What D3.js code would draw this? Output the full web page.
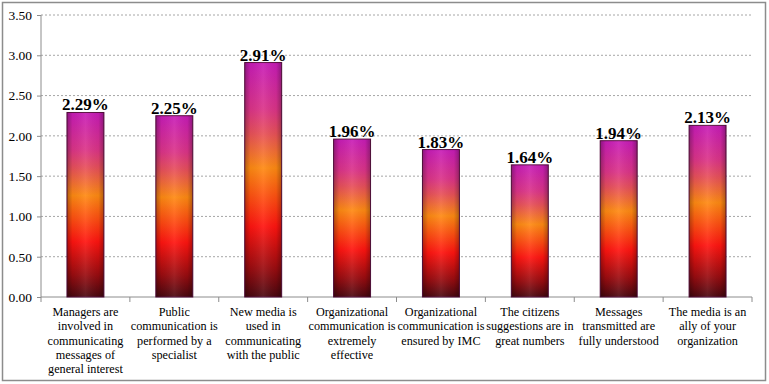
<!DOCTYPE html>
<html>
<head>
    <meta charset="utf-8">
    <title>Communication survey</title>
    <script src="https://d3js.org/d3.v7.min.js"></script>
</head>
<style>
    body {
        margin: 0;
        background: #fff;
    }

    .grid line {
        stroke: #a6a6a6;
        stroke-dasharray: 2, 2;
    }

    .axis path,
    .axis line {
        stroke: #8c8c8c;
    }
</style>

<body>
    <svg width="769" height="384"></svg>

    <script>
        const categories = [
            ["Managers are", "involved in", "communicating", "messages of", "general interest"],
            ["Public", "communication is", "performed by a", "specialist"],
            ["New media is", "used in", "communicating", "with the public"],
            ["Organizational", "communication is", "extremely", "effective"],
            ["Organizational", "communication is", "ensured by IMC"],
            ["The citizens", "suggestions are in", "great numbers"],
            ["Messages", "transmitted are", "fully understood"],
            ["The media is an", "ally of your", "organization"]
        ];
        const values = [2.29, 2.25, 2.91, 1.96, 1.83, 1.64, 1.94, 2.13];
        const yTicks = [0, 0.5, 1, 1.5, 2, 2.5, 3, 3.5];

        const fontFace = "'Liberation Serif'";
        const margin = { top: 15, right: 17, bottom: 87, left: 41 };
        const width = 769 - margin.left - margin.right;
        const height = 384 - margin.top - margin.bottom;

        const root = d3.select("svg");

        // outer chart frame
        root.append("rect")
            .attr("x", 2.5).attr("y", 2.5)
            .attr("width", 763).attr("height", 378)
            .attr("fill", "#fff")
            .attr("stroke", "#8c8c8c")
            .attr("stroke-width", 1.5);

        const defs = root.append("defs");
        const grad = defs.append("linearGradient")
            .attr("id", "barFill")
            .attr("x1", 0).attr("y1", 0).attr("x2", 0).attr("y2", 1);
        [
            ["0%", "#c81cb8"],
            ["20%", "#dc3488"],
            ["30%", "#e8505a"],
            ["45%", "#ff8a12"],
            ["70%", "#ff1410"],
            ["88%", "#9a0c10"],
            ["100%", "#4a0810"]
        ].forEach(s => grad.append("stop").attr("offset", s[0]).attr("stop-color", s[1]));

        // darker edges, lighter middle
        const shade = defs.append("linearGradient")
            .attr("id", "barShade")
            .attr("x1", 0).attr("y1", 0).attr("x2", 1).attr("y2", 0);
        [
            ["0%", "#000", 0.3],
            ["15%", "#000", 0.05],
            ["50%", "#fff", 0.08],
            ["85%", "#000", 0.05],
            ["100%", "#000", 0.3]
        ].forEach(s => shade.append("stop").attr("offset", s[0])
            .attr("stop-color", s[1]).attr("stop-opacity", s[2]));

        const svg = root.append("g")
            .attr("transform", `translate(${margin.left},${margin.top})`);

        const x = d3.scaleBand()
            .domain(d3.range(categories.length))
            .range([0, width])
            .paddingInner(0.584)
            .paddingOuter(0.292);

        const y = d3.scaleLinear()
            .domain([0, 3.5])
            .range([height, 0]);

        // gridlines
        svg.append("g")
            .attr("class", "grid")
            .selectAll("line")
            .data(yTicks.filter(d => d > 0))
            .join("line")
            .attr("x1", 0).attr("x2", width)
            .attr("y1", d => y(d)).attr("y2", d => y(d));

        // y axis
        const yAxis = svg.append("g")
            .attr("class", "axis")
            .call(d3.axisLeft(y).tickValues(yTicks).tickFormat(d3.format(".2f")).tickSize(4).tickPadding(5));
        yAxis.attr("font-family", null).attr("font-size", null);
        yAxis.select(".domain").attr("d", `M0,${height}V0`);
        yAxis.selectAll("text")
            .attr("fill", "#000")
            .style("font-family", fontFace)
            .style("font-size", "13.5px");

        // x axis with ticks between categories
        const xAxis = svg.append("g")
            .attr("class", "axis")
            .attr("transform", `translate(0,${height})`);
        xAxis.append("line").attr("x1", 0).attr("x2", width);
        const step = x.step();
        xAxis.selectAll(".tk")
            .data(d3.range(categories.length + 1))
            .join("line")
            .attr("class", "tk")
            .attr("x1", d => d * step).attr("x2", d => d * step)
            .attr("y1", 0).attr("y2", 5);

        // bars
        const bars = svg.selectAll(".bar")
            .data(values)
            .join("g")
            .attr("class", "bar");

        bars.append("rect")
            .attr("x", (d, i) => x(i))
            .attr("y", d => y(d))
            .attr("width", x.bandwidth())
            .attr("height", d => height - y(d))
            .attr("fill", "url(#barFill)")
            .attr("stroke", "#5a1040")
            .attr("stroke-width", 1);

        bars.append("rect")
            .attr("x", (d, i) => x(i))
            .attr("y", d => y(d))
            .attr("width", x.bandwidth())
            .attr("height", d => height - y(d))
            .attr("fill", "url(#barShade)");

        bars.append("text")
            .attr("x", (d, i) => x(i) + x.bandwidth() / 2)
            .attr("y", d => y(d) - 2)
            .attr("text-anchor", "middle")
            .style("font-family", fontFace)
            .style("font-size", "17px")
            .style("font-weight", "bold")
            .text(d => d.toFixed(2) + "%");

        // category labels
        svg.selectAll(".cat-label")
            .data(categories)
            .join("text")
            .attr("class", "cat-label")
            .attr("text-anchor", "middle")
            .style("font-family", fontFace)
            .style("font-size", "12.2px")
            .attr("transform", (d, i) => `translate(${x(i) + x.bandwidth() / 2},${height + 19})`)
            .selectAll("tspan")
            .data(d => d)
            .join("tspan")
            .attr("x", 0)
            .attr("y", (d, i) => i * 14.25)
            .text(d => d);
    </script>
</body>
</html>
